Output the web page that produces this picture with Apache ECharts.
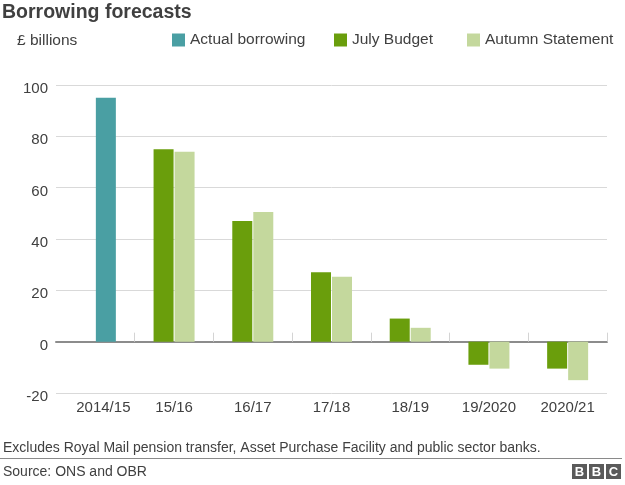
<!DOCTYPE html>
<html>
<head>
<meta charset="utf-8">
<script src="https://cdn.jsdelivr.net/npm/echarts@6/dist/echarts.min.js"></script>
<style>
html,body{margin:0;padding:0;background:#fff;}
#chart{width:625px;height:485px;}
</style>
</head>
<body>
<div id="chart"></div>
<script>
// ---- data ----
const categories = ['2014/15', '15/16', '16/17', '17/18', '18/19', '19/2020', '2020/21'];
const actualBorrowing = [95, null, null, null, null, null, null];
const julyBudget = [null, 75, 47, 27, 9, -9, -10.5];
const autumnStatement = [null, 74, 50.5, 25.3, 5.4, -10.5, -15];
const yTicks = { min: -20, max: 100, interval: 20 };
const seriesNames = ['Actual borrowing', 'July Budget', 'Autumn Statement'];

const FONT = '"Liberation Sans", Arial, Helvetica, sans-serif';
const TXT = '#404040';
const colors = { actual: '#4a9fa3', july: '#6a9e0c', autumn: '#c4d89d' };

const chart = echarts.init(document.getElementById('chart'), null, { renderer: 'canvas' });

const legendLefts = [172, 334, 467];

const option = {
  animation: false,
  backgroundColor: '#ffffff',
  textStyle: { fontFamily: FONT },
  title: [
    { text: 'Borrowing forecasts', left: 2, top: 3, padding: 0,
      textStyle: { fontSize: 19.5, fontWeight: 'bold', color: TXT, fontFamily: FONT } },
    { text: '£ billions', left: 17, top: 33, padding: 0,
      textStyle: { fontSize: 15.5, fontWeight: 'normal', color: TXT, fontFamily: FONT } }
  ],
  legend: seriesNames.map((n, i) => ({
    data: [n], left: legendLefts[i], top: 32, padding: 0,
    icon: 'rect', itemWidth: 13, itemHeight: 13,
    textStyle: { fontSize: 15.5, color: TXT, fontFamily: FONT }
  })),
  grid: { left: 56, right: 18, top: 85, bottom: 92, containLabel: false },
  xAxis: [
    {
      type: 'category',
      data: categories.map((c, i) => i === 0 ? { value: c, textStyle: { padding: [0, 0, 0, 16] } } : c),
      position: 'bottom',
      axisLine: { show: false, onZero: false },
      axisTick: { show: false },
      axisLabel: { fontSize: 15, color: TXT, margin: 7, fontFamily: FONT, interval: 0 },
      splitLine: { show: false }
    },
    {
      type: 'category',
      data: categories,
      position: 'top',
      axisLine: { show: true, onZero: true, lineStyle: { color: '#8c8c8c', width: 2 } },
      axisTick: { show: true, inside: false, length: 9, interval: (i) => i > 0,
                  lineStyle: { color: '#d4d4d4', width: 1 } },
      axisLabel: { show: false },
      splitLine: { show: false }
    }
  ],
  yAxis: {
    type: 'value',
    min: yTicks.min, max: yTicks.max, interval: yTicks.interval,
    axisLine: { show: false },
    axisTick: { show: false },
    axisLabel: { fontSize: 15, color: TXT, margin: 8, fontFamily: FONT,
                 verticalAlign: 'top', lineHeight: 8 },
    splitLine: { show: true, lineStyle: { color: '#d9d9d9', width: 1 } }
  },
  series: [
    { name: seriesNames[1], type: 'bar', xAxisIndex: 0, stack: 'j', data: julyBudget,
      barWidth: 20, barGap: '5%', itemStyle: { color: colors.july } },
    { name: seriesNames[0], type: 'bar', xAxisIndex: 0, stack: 'a', data: actualBorrowing,
      barWidth: 20, barGap: '5%', itemStyle: { color: colors.actual } },
    { name: seriesNames[2], type: 'bar', xAxisIndex: 0, stack: 'a', data: autumnStatement,
      barWidth: 20, barGap: '5%', itemStyle: { color: colors.autumn } }
  ],
  graphic: [
    { type: 'text', left: 3, top: 441,
      style: { text: 'Excludes Royal Mail pension transfer, Asset Purchase Facility and public sector banks.',
               font: '14px ' + FONT, fill: TXT } },
    { type: 'line', shape: { x1: 0, y1: 458.5, x2: 622, y2: 458.5 },
      style: { stroke: '#8a8a8a', lineWidth: 1 } },
    { type: 'text', left: 3, top: 465,
      style: { text: 'Source: ONS and OBR', font: '14px ' + FONT, fill: TXT } },
    { type: 'group', left: 572, top: 464, children: ['B', 'B', 'C'].flatMap((ch, i) => [
      { type: 'rect', shape: { x: i * 17, y: 0, width: 15, height: 15 }, style: { fill: '#5a5a5a' } },
      { type: 'text', x: i * 17 + 7.5, y: 8, style: { text: ch, font: 'bold 13px ' + FONT, fill: '#ffffff',
        align: 'center', verticalAlign: 'middle' } }
    ]) }
  ]
};
chart.setOption(option);
</script>
</body>
</html>
